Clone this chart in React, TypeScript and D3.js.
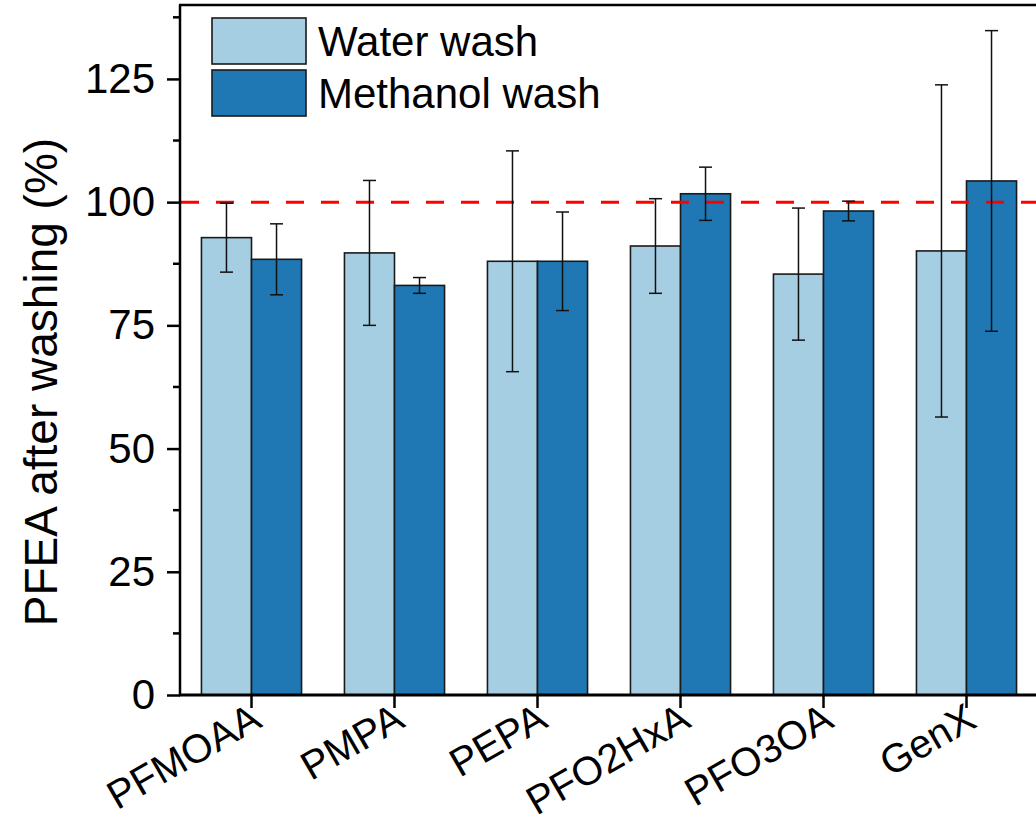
import React, { useEffect, useRef } from 'react';
import * as d3 from 'd3';

const categories = ['PFMOAA', 'PMPA', 'PEPA', 'PFO2HxA', 'PFO3OA', 'GenX'];
const seriesNames = ['Water wash', 'Methanol wash'];
const waterMean = [92.8, 89.7, 88.0, 91.1, 85.4, 90.1];
const waterErr = [7.0, 14.7, 22.4, 9.6, 13.4, 33.7];
const methanolMean = [88.4, 83.1, 88.0, 101.7, 98.2, 104.3];
const methanolErr = [7.2, 1.6, 10.0, 5.4, 2.0, 30.5];
const yTicks = [0, 25, 50, 75, 100, 125];
const referenceLine = 100;

const colors = ['#a6cee3', '#1f78b4'];

const App = () => {
  const svgRef = useRef<SVGSVGElement>(null);

  useEffect(() => {
    const svg = d3.select(svgRef.current);
    svg.selectAll('*').remove();

    const width = 1036;
    const height = 815;
    const margin = { top: 5, right: -2, bottom: 120, left: 180 };
    const font = 'Arial, "Liberation Sans", Helvetica, sans-serif';

    const x0 = d3.scaleBand()
      .domain(categories)
      .range([margin.left, width - margin.right])
      .paddingInner(0)
      .paddingOuter(0);

    const barW = x0.bandwidth() * 0.35;
    const x1 = d3.scaleBand()
      .domain(seriesNames)
      .range([0, barW * 2]);

    const y = d3.scaleLinear()
      .domain([0, 140])
      .range([height - margin.bottom, margin.top]);

    const series = [
      { name: seriesNames[0], mean: waterMean, err: waterErr, color: colors[0] },
      { name: seriesNames[1], mean: methanolMean, err: methanolErr, color: colors[1] },
    ];

    // 막대
    series.forEach(s => {
      const g = svg.append('g');
      categories.forEach((c, i) => {
        const bx = x0(c)! + x0.bandwidth() / 2 - barW + x1(s.name)!;
        g.append('rect')
          .attr('x', bx)
          .attr('y', y(s.mean[i]))
          .attr('width', x1.bandwidth())
          .attr('height', y(0) - y(s.mean[i]))
          .attr('fill', s.color)
          .attr('stroke', '#1a1a1a')
          .attr('stroke-width', 1.6);
      });
    });

    // 기준선 (100%)
    svg.append('line')
      .attr('x1', margin.left)
      .attr('x2', width)
      .attr('y1', y(referenceLine))
      .attr('y2', y(referenceLine))
      .attr('stroke', '#ff0000')
      .attr('stroke-width', 3)
      .attr('stroke-dasharray', '18,17')
      .attr('stroke-dashoffset', -1);

    // 오차 막대
    series.forEach(s => {
      const g = svg.append('g').attr('stroke', '#111').attr('stroke-width', 1.5);
      categories.forEach((c, i) => {
        const cx = x0(c)! + x0.bandwidth() / 2 - barW + x1(s.name)! + x1.bandwidth() / 2;
        const lo = y(s.mean[i] - s.err[i]);
        const hi = y(s.mean[i] + s.err[i]);
        g.append('line').attr('x1', cx).attr('x2', cx).attr('y1', lo).attr('y2', hi);
        g.append('line').attr('x1', cx - 6.5).attr('x2', cx + 6.5).attr('y1', lo).attr('y2', lo);
        g.append('line').attr('x1', cx - 6.5).attr('x2', cx + 6.5).attr('y1', hi).attr('y2', hi);
      });
    });

    // 축
    const yAxis = svg.append('g')
      .attr('transform', `translate(${margin.left},0)`)
      .call(d3.axisLeft(y).tickValues(yTicks).tickSize(13).tickPadding(12).tickSizeOuter(0));
    yAxis.select('.domain').remove();
    yAxis.selectAll('line').attr('stroke', '#000').attr('stroke-width', 2.5);
    yAxis.selectAll('text')
      .style('font-family', font)
      .style('font-size', '42px')
      .attr('fill', '#000');

    const minorTicks = d3.range(12.5, 140, 25);
    svg.append('g').selectAll('line')
      .data(minorTicks)
      .enter().append('line')
      .attr('x1', margin.left - 7)
      .attr('x2', margin.left)
      .attr('y1', d => y(d))
      .attr('y2', d => y(d))
      .attr('stroke', '#000')
      .attr('stroke-width', 2.5);

    const xAxis = svg.append('g')
      .attr('transform', `translate(0,${y(0)})`)
      .call(d3.axisBottom(x0).tickSize(13).tickSizeOuter(0));
    xAxis.select('.domain').remove();
    xAxis.selectAll('line').attr('stroke', '#000').attr('stroke-width', 2.5);
    xAxis.selectAll('text')
      .style('font-family', font)
      .style('font-size', '40px')
      .attr('fill', '#000')
      .style('text-anchor', 'end')
      .attr('dx', 0)
      .attr('dy', 0)
      .attr('y', 0)
      .attr('transform', 'translate(12,31) rotate(-30)');

    // 프레임
    const frame = svg.append('g').attr('stroke', '#000').attr('fill', 'none');
    frame.append('line').attr('x1', margin.left).attr('x2', margin.left).attr('y1', y(140)).attr('y2', y(0)).attr('stroke-width', 2.5);
    frame.append('line').attr('x1', margin.left - 1).attr('x2', width).attr('y1', y(0)).attr('y2', y(0)).attr('stroke-width', 3);
    frame.append('line').attr('x1', margin.left - 1).attr('x2', width).attr('y1', y(140)).attr('y2', y(140)).attr('stroke-width', 2.5);

    // Y 축 제목
    svg.append('text')
      .attr('transform', `translate(57,${(y(0) + y(140)) / 2 + 32}) rotate(-90)`)
      .attr('text-anchor', 'middle')
      .style('font-family', font)
      .style('font-size', '46px')
      .attr('fill', '#000')
      .text('PFEA after washing (%)');

    // 범례
    const legend = svg.append('g');
    series.forEach((s, i) => {
      legend.append('rect')
        .attr('x', 212)
        .attr('y', 18 + i * 52)
        .attr('width', 94)
        .attr('height', 46)
        .attr('fill', s.color)
        .attr('stroke', '#1a1a1a')
        .attr('stroke-width', 1.6);
      legend.append('text')
        .attr('x', 318)
        .attr('y', 56 + i * 52)
        .style('font-family', font)
        .style('font-size', '42px')
        .attr('fill', '#000')
        .text(s.name);
    });
  }, []);

  return (
    <svg
      ref={svgRef}
      width={1036}
      height={815}
      style={{ position: 'absolute', left: 0, top: 0, background: 'white' }}
    />
  );
};

export default App;
